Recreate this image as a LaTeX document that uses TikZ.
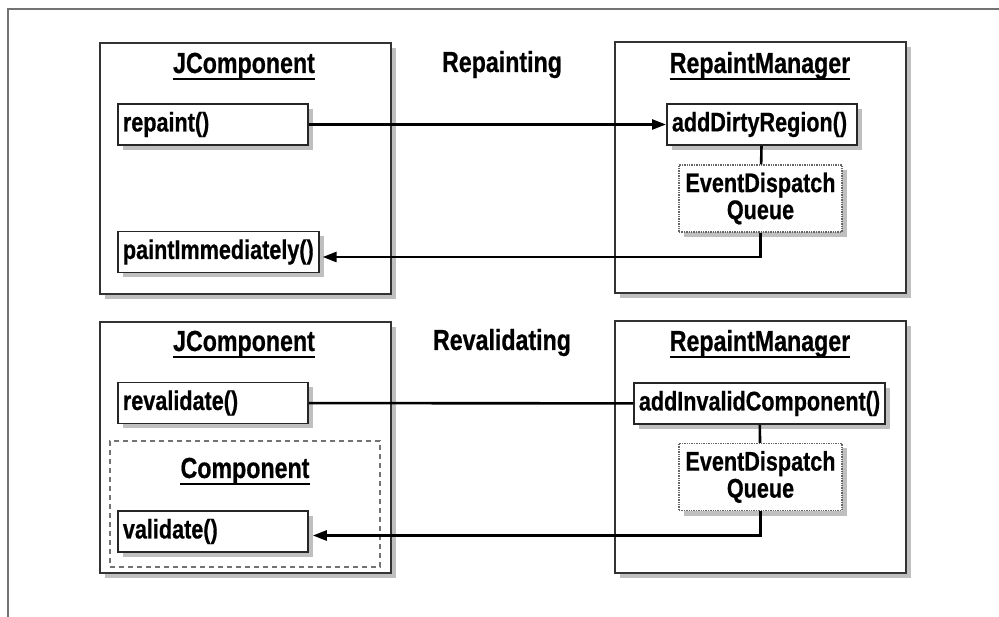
\documentclass[tikz,border=0pt]{standalone}
\usepackage{fontspec}
\newfontfamily\diafont[FakeStretch=0.8, FakeBold=0.6]{Liberation Sans}
\usetikzlibrary{arrows.meta, positioning, shadows}

\begin{document}
\begin{tikzpicture}[x=1pt, y=-1pt,
  every node/.style={font=\diafont\bfseries\fontsize{27}{27}\selectfont},
  shade/.style={drop shadow={shadow xshift=5pt, shadow yshift=-5pt,
                fill=black!50, opacity=0.5}},
  panel/.style={draw=black!80, line width=2pt, fill=white, shade,
                minimum width=291pt, minimum height=251pt},
  headline/.style={font=\diafont\bfseries\fontsize{29}{29}\selectfont,
                   inner sep=0pt, anchor=base},
  meth/.style={draw=black!85, line width=1.8pt, fill=white, shade,
               anchor=west, minimum height=41pt, inner xsep=5pt,
               inner ysep=0pt, align=left},
  queue/.style={draw=black!60, densely dotted, line width=1.4pt, fill=white,
                shade, minimum width=163pt, minimum height=67pt, align=center,
                font=\diafont\bfseries\fontsize{27}{27}\selectfont},
  uline/.style={line width=2pt},
  arr/.style={-{Triangle[length=14pt, width=10pt]}, line width=2.6pt},
  link/.style={line width=2.6pt},
]
  \useasboundingbox (0,0) rectangle (999,617);
  \draw[black!55, line width=2pt] (999,9) -- (8,9) -- (8,617);

  % repainting
  \node[panel] (jcA) at (245.5,169) {};
  \node[panel] (rmA) at (760,168) {};
  \node[headline] (jcAt) at (244,73) {JComponent};
  \node[headline] (rmAt) at (760,73) {RepaintManager};
  \node[headline] (repLbl) at (502,72) {Repainting};

  \node[meth, text width=180pt] (repaint) at (117,124.5) {repaint()};
  \node[meth] (paint) at (117,252) {paintImmediately()};
  \node[meth, text width=180pt] (dirty) at (666,124.5) {addDirtyRegion()};
  \node[queue] (queueA) at (760.5,198.5) {EventDispatch\\Queue};

  % revalidating
  \node[panel] (jcB) at (245.5,447.5) {};
  \node[panel] (rmB) at (760,447) {};
  \node[headline] (jcBt) at (244,351) {JComponent};
  \node[headline] (rmBt) at (760,351) {RepaintManager};
  \node[headline] (revLbl) at (502,350) {Revalidating};

  \node[draw=black!55, dash pattern=on 5pt off 4pt, line width=2.5pt,
        minimum width=270pt, minimum height=126pt] (comp) at (245,504) {};
  \node[headline] (compt) at (245,478) {Component};

  \node[meth, text width=180pt] (revalidate) at (117,403) {revalidate()};
  \node[meth, text width=180pt] (validate) at (117,531.5) {validate()};
  \node[meth] (invalid) at (633,403.5) {addInvalidComponent()};
  \node[queue] (queueB) at (760.5,477) {EventDispatch\\Queue};

  \foreach \t in {jcAt, rmAt, jcBt, rmBt, compt}
    \draw[uline] ([yshift=-6pt]\t.base west) -- ([yshift=-6pt]\t.base east);

  \draw[arr] (repaint) -- (dirty);
  \draw[link] (dirty) -- (queueA);
  \draw[arr, shorten >=3pt] (queueA.south) |- ([yshift=-5pt]paint.east);

  \draw[link] (revalidate) -- (invalid);
  \draw[link] (invalid) -- (queueB);
  \draw[arr, shorten >=4pt] (queueB.south) |- ([yshift=-4pt]validate.east);
\end{tikzpicture}
\end{document}
